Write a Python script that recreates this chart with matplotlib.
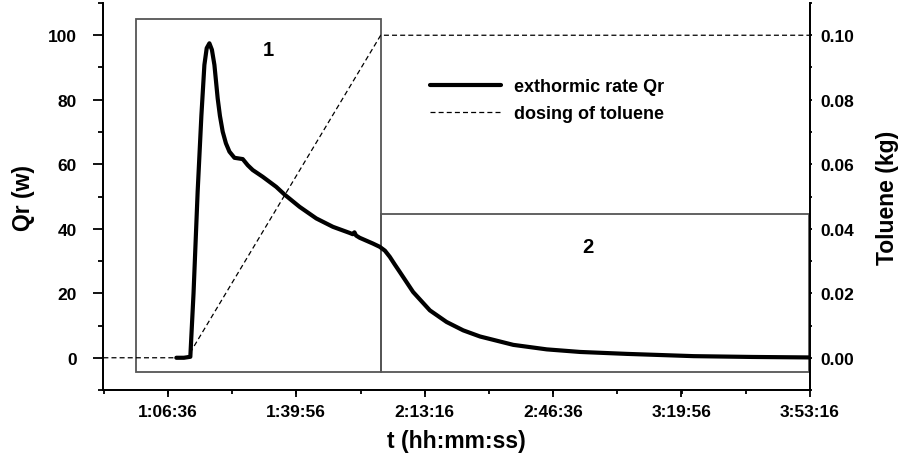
import matplotlib
matplotlib.use("Agg")
import matplotlib.pyplot as plt
from matplotlib.ticker import FixedLocator, FuncFormatter, MultipleLocator
from matplotlib.patches import Rectangle

FONT = ["Liberation Sans", "DejaVu Sans"]
plt.rcParams["font.family"] = FONT
plt.rcParams["font.weight"] = "bold"

# Heat release rate Qr (W) against elapsed time (s)
qr_time = [4132, 4250, 4350, 4400, 4464, 4522, 4569, 4605, 4647, 4686, 4725,
           4776, 4811, 4854, 4904, 4959, 5037, 5166, 5244, 5322, 5478, 5687,
           5817, 6051, 6311, 6570, 6831, 6880, 6905, 6930, 6987, 7194, 7299,
           7380, 7455, 7530, 7611, 7818, 8079, 8339, 8598, 8859, 9378, 9899,
           10419, 11147, 12186, 13100, 13996]
qr_value = [0.0, 0.0, 0.3, 20.0, 51.5, 75.0, 90.8, 96.0, 97.5, 95.5, 90.8,
            80.4, 75.0, 70.1, 66.5, 63.9, 62.0, 61.6, 59.7, 58.2, 56.1, 53.0,
            50.6, 46.8, 43.2, 40.6, 38.7, 38.3, 38.9, 37.9, 37.2, 35.4, 34.4,
            33.2, 31.3, 29.0, 26.6, 20.4, 14.7, 11.1, 8.5, 6.6, 4.0, 2.6,
            1.8, 1.2, 0.5, 0.25, 0.1]

# Cumulative toluene dosed (kg)
dose_time = [2996, 4300, 7314, 13996]
dose_value = [0.0, 0.0, 0.10, 0.10]

# Phase boxes: (start, end, Qr bottom, Qr top) and their labels
phase_names = ["1", "2"]
phase_t0 = [3508, 7314]
phase_t1 = [7314, 13975]
phase_q0 = [-4.5, -4.5]
phase_q1 = [105.0, 44.7]
phase_label_t = [5560, 10540]
phase_label_q = [95.5, 34.5]

x_ticks = [3996, 5996, 7996, 9996, 11996, 13996]


def hms(sec, _pos=None):
    sec = int(round(sec))
    h, rem = divmod(sec, 3600)
    m, s = divmod(rem, 60)
    return f"{h}:{m:02d}:{s:02d}"


fig = plt.figure(figsize=(9.13, 4.64), dpi=100)
ax = fig.add_axes([0.1132, 0.1573, 0.7739, 0.8341])
ax2 = ax.twinx()

ax.set_xlim(2996, 13996)
ax.set_ylim(-10, 110)
ax2.set_ylim(-0.01, 0.11)

for a in (ax, ax2):
    a.spines["top"].set_visible(False)
    for s in ("left", "right", "bottom"):
        a.spines[s].set_linewidth(1.3)

# phase boxes
for t0, t1, q0, q1 in zip(phase_t0, phase_t1, phase_q0, phase_q1):
    ax.add_patch(Rectangle((t0, q0), t1 - t0, q1 - q0, fill=False,
                           edgecolor="#555555", linewidth=1.3, zorder=1))
for name, lt, lq in zip(phase_names, phase_label_t, phase_label_q):
    ax.text(lt, lq, name, ha="center", va="center", fontsize=14.5,
            fontweight="bold", family=FONT)

l1, = ax.plot(qr_time, qr_value, color="black", linewidth=3.0,
              solid_capstyle="round", solid_joinstyle="round", zorder=3,
              label="exthormic rate Qr")
l2, = ax2.plot(dose_time, dose_value, color="black", linewidth=0.9,
               dashes=(4, 2.5), zorder=2, label="dosing of toluene")

ax.xaxis.set_major_locator(FixedLocator(x_ticks))
ax.xaxis.set_minor_locator(MultipleLocator(1000))
ax.xaxis.set_major_formatter(FuncFormatter(hms))
ax.set_yticks([0, 20, 40, 60, 80, 100])
ax.yaxis.set_minor_locator(MultipleLocator(10))
ax2.set_yticks([0.0, 0.02, 0.04, 0.06, 0.08, 0.10])
ax2.yaxis.set_minor_locator(MultipleLocator(0.01))
ax2.yaxis.set_major_formatter(FuncFormatter(lambda v, p: f"{v:.2f}"))

TICK_FS = 12.5
ax.tick_params(axis="y", which="major", direction="out", length=7.2,
               width=1.3, labelsize=TICK_FS, pad=12)
ax.tick_params(axis="y", which="minor", direction="out", length=3.6, width=1.3)
ax.tick_params(axis="x", which="major", direction="out", length=5,
               width=1.3, labelsize=TICK_FS, pad=5)
ax.tick_params(axis="x", which="minor", direction="out", length=3, width=1.3)
ax2.tick_params(axis="y", which="major", direction="out", length=1.5,
                width=1.3, labelsize=TICK_FS, pad=6)
ax2.tick_params(axis="y", which="minor", direction="out", length=1.5, width=1.3)

for lab in ax.get_xticklabels() + ax.get_yticklabels() + ax2.get_yticklabels():
    lab.set_fontweight("bold")

ax.set_xlabel("t (hh:mm:ss)", fontsize=16.5, fontweight="bold", labelpad=7)
ax.set_ylabel("Qr (w)", fontsize=16.5, fontweight="bold", labelpad=9)
ax2.set_ylabel("Toluene (kg)", fontsize=16.5, fontweight="bold", labelpad=16)

leg = ax.legend(handles=[l1, l2], loc="upper left",
                bbox_to_anchor=(0.463, 0.806), frameon=False,
                borderaxespad=0, borderpad=0,
                handlelength=3.9, handletextpad=0.7, labelspacing=0.55,
                prop={"weight": "bold", "size": 13, "family": FONT})

fig.savefig("out.png", dpi=100)
